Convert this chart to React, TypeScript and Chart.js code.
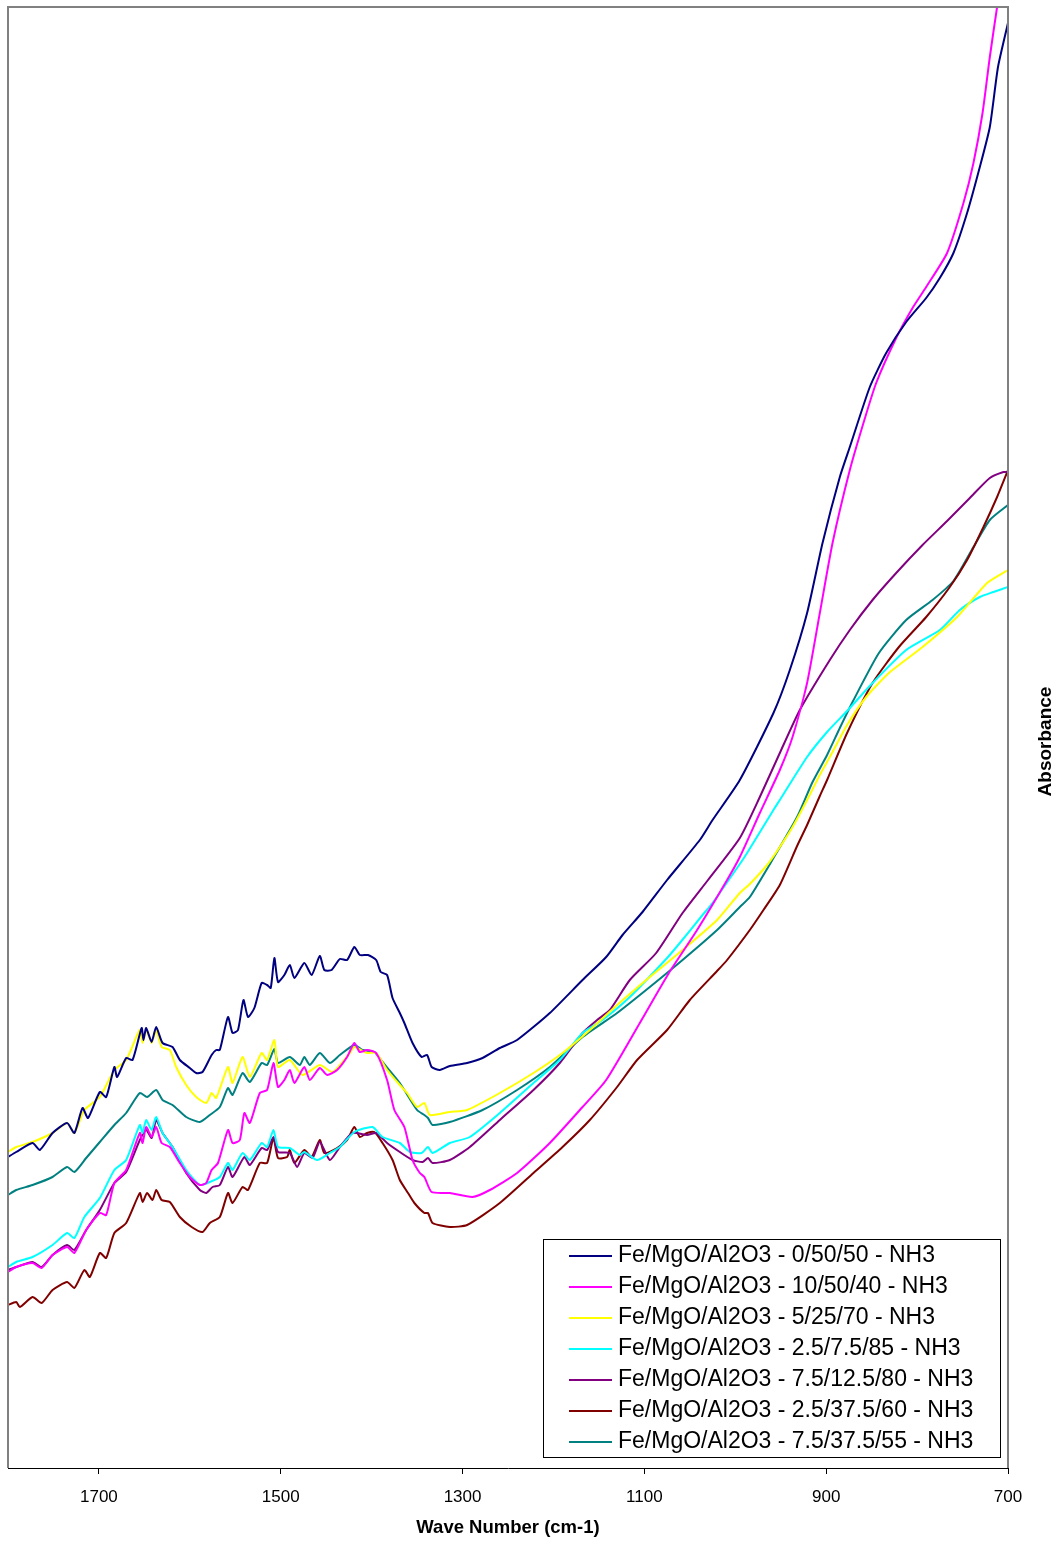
import { useEffect, useRef } from "react";
import { Chart, registerables } from "chart.js";

Chart.register(...registerables);

const FONT = 'Arial, "Liberation Sans", Helvetica, sans-serif';

// Wave-number axis (cm-1), drawn reversed: 1800 on the left, 700 on the right
const xMin = 700;
const xMax = 1800;
const xTicks = [700, 900, 1100, 1300, 1500, 1700];
const yMin = 0;
const yMax = 1.461;

const xTitle = "Wave Number (cm-1)";
const yTitle = "Absorbance";

const seriesLabels = [
  "Fe/MgO/Al2O3 - 0/50/50 - NH3",
  "Fe/MgO/Al2O3 - 10/50/40 - NH3",
  "Fe/MgO/Al2O3 - 5/25/70 - NH3",
  "Fe/MgO/Al2O3 - 2.5/7.5/85 - NH3",
  "Fe/MgO/Al2O3 - 7.5/12.5/80 - NH3",
  "Fe/MgO/Al2O3 - 2.5/37.5/60 - NH3",
  "Fe/MgO/Al2O3 - 7.5/37.5/55 - NH3",
];

const seriesColors = ["#000080", "#FF00FF", "#FFFF00", "#00FFFF", "#800080", "#800000", "#008080"];

// [wave number, absorbance] pairs for each sample
const s0_50_50: [number, number][] = [
  [1800, 0.311], [1791, 0.316], [1773, 0.325], [1765, 0.318], [1751, 0.335], [1735, 0.345], [1727, 0.335],
  [1718, 0.36], [1712, 0.35], [1699, 0.376], [1692, 0.371], [1683, 0.401], [1680, 0.391], [1670, 0.41],
  [1663, 0.408], [1653, 0.44], [1651, 0.428], [1648, 0.44], [1642, 0.426], [1637, 0.441], [1630, 0.425],
  [1619, 0.421], [1611, 0.408], [1600, 0.4], [1593, 0.395], [1586, 0.396], [1576, 0.413], [1571, 0.418],
  [1567, 0.418], [1558, 0.451], [1553, 0.435], [1547, 0.438], [1541, 0.468], [1536, 0.451], [1529, 0.46],
  [1521, 0.485], [1515, 0.483], [1511, 0.48], [1507, 0.51], [1503, 0.486], [1496, 0.493], [1490, 0.503],
  [1485, 0.49], [1474, 0.505], [1466, 0.493], [1457, 0.512], [1452, 0.498], [1444, 0.498], [1435, 0.509],
  [1427, 0.508], [1419, 0.521], [1413, 0.513], [1404, 0.513], [1395, 0.508], [1390, 0.496], [1383, 0.493],
  [1377, 0.47], [1369, 0.455], [1364, 0.445], [1355, 0.425], [1345, 0.411], [1339, 0.413], [1334, 0.401],
  [1325, 0.398], [1314, 0.402], [1295, 0.405], [1278, 0.41], [1259, 0.42], [1240, 0.428], [1204, 0.455],
  [1168, 0.488], [1142, 0.511], [1124, 0.533], [1102, 0.556], [1075, 0.588], [1039, 0.628], [1025, 0.648],
  [995, 0.688], [958, 0.755], [940, 0.798], [921, 0.855], [904, 0.925], [885, 0.991], [874, 1.021],
  [852, 1.081], [834, 1.115], [812, 1.146], [790, 1.17], [775, 1.19], [760, 1.215], [745, 1.255],
  [731, 1.301], [720, 1.341], [711, 1.401], [700, 1.445],
];

const s10_50_40: [number, number][] = [
  [1800, 0.196], [1791, 0.201], [1773, 0.205], [1763, 0.2], [1751, 0.213], [1735, 0.221], [1727, 0.215],
  [1714, 0.238], [1699, 0.255], [1692, 0.253], [1683, 0.285], [1670, 0.298], [1655, 0.335], [1652, 0.325],
  [1648, 0.341], [1642, 0.331], [1637, 0.341], [1631, 0.325], [1622, 0.321], [1611, 0.305], [1600, 0.291],
  [1589, 0.283], [1582, 0.285], [1576, 0.298], [1569, 0.305], [1558, 0.338], [1553, 0.325], [1545, 0.328],
  [1540, 0.355], [1534, 0.345], [1523, 0.375], [1515, 0.378], [1508, 0.405], [1503, 0.381], [1496, 0.388],
  [1490, 0.398], [1485, 0.385], [1474, 0.401], [1468, 0.388], [1457, 0.4], [1449, 0.393], [1438, 0.398],
  [1427, 0.411], [1419, 0.425], [1413, 0.416], [1405, 0.418], [1395, 0.415], [1383, 0.388], [1375, 0.358],
  [1364, 0.341], [1355, 0.308], [1347, 0.295], [1342, 0.291], [1334, 0.276], [1314, 0.275], [1289, 0.271],
  [1270, 0.278], [1240, 0.295], [1204, 0.325], [1168, 0.361], [1142, 0.388], [1105, 0.445], [1073, 0.495],
  [1042, 0.538], [1009, 0.588], [995, 0.611], [973, 0.655], [951, 0.698], [937, 0.731], [921, 0.785],
  [907, 0.855], [893, 0.925], [874, 0.998], [858, 1.048], [845, 1.085], [823, 1.13], [805, 1.16],
  [790, 1.181], [767, 1.215], [749, 1.265], [738, 1.305], [728, 1.355], [720, 1.411], [712, 1.461],
  [700, 1.53],
];

const s5_25_70: [number, number][] = [
  [1800, 0.316], [1791, 0.321], [1773, 0.326], [1751, 0.335], [1735, 0.345], [1727, 0.335], [1716, 0.358],
  [1699, 0.371], [1683, 0.398], [1670, 0.408], [1655, 0.438], [1652, 0.425], [1648, 0.438], [1642, 0.425],
  [1637, 0.438], [1631, 0.421], [1622, 0.418], [1615, 0.401], [1604, 0.383], [1593, 0.371], [1582, 0.365],
  [1576, 0.375], [1571, 0.37], [1558, 0.401], [1553, 0.385], [1542, 0.411], [1534, 0.391], [1521, 0.415],
  [1515, 0.408], [1507, 0.428], [1503, 0.401], [1490, 0.408], [1476, 0.393], [1457, 0.403], [1443, 0.396],
  [1424, 0.415], [1419, 0.421], [1405, 0.415], [1395, 0.415], [1383, 0.398], [1369, 0.383], [1361, 0.375],
  [1350, 0.361], [1342, 0.365], [1336, 0.353], [1314, 0.356], [1295, 0.358], [1259, 0.375], [1222, 0.395],
  [1190, 0.415], [1160, 0.438], [1130, 0.463], [1094, 0.491], [1058, 0.518], [1020, 0.548], [995, 0.575],
  [984, 0.584], [965, 0.603], [951, 0.621], [937, 0.641], [921, 0.668], [907, 0.693], [893, 0.716],
  [877, 0.743], [856, 0.771], [831, 0.795], [794, 0.821], [756, 0.851], [723, 0.885], [700, 0.898],
];

const s2_5_7_5_85: [number, number][] = [
  [1800, 0.201], [1791, 0.206], [1773, 0.211], [1751, 0.223], [1735, 0.235], [1727, 0.23], [1716, 0.251],
  [1699, 0.27], [1683, 0.298], [1670, 0.308], [1655, 0.343], [1652, 0.335], [1648, 0.348], [1642, 0.338],
  [1637, 0.351], [1630, 0.335], [1619, 0.321], [1604, 0.298], [1589, 0.283], [1578, 0.286], [1567, 0.291],
  [1558, 0.305], [1553, 0.298], [1542, 0.315], [1534, 0.308], [1521, 0.325], [1515, 0.321], [1508, 0.338],
  [1503, 0.321], [1490, 0.32], [1479, 0.313], [1474, 0.316], [1460, 0.308], [1446, 0.315], [1435, 0.321],
  [1419, 0.336], [1399, 0.341], [1388, 0.331], [1369, 0.325], [1358, 0.316], [1345, 0.315], [1338, 0.321],
  [1333, 0.315], [1314, 0.325], [1292, 0.331], [1259, 0.355], [1222, 0.385], [1193, 0.408], [1168, 0.435],
  [1146, 0.448], [1116, 0.471], [1075, 0.51], [1061, 0.525], [1036, 0.553], [1025, 0.565], [995, 0.604],
  [987, 0.615], [958, 0.658], [951, 0.668], [921, 0.711], [899, 0.736], [877, 0.757], [849, 0.785],
  [812, 0.818], [775, 0.838], [753, 0.858], [731, 0.871], [716, 0.876], [700, 0.881],
];

const s7_5_12_5_80: [number, number][] = [
  [1800, 0.198], [1791, 0.201], [1773, 0.206], [1763, 0.201], [1751, 0.213], [1735, 0.223], [1727, 0.218],
  [1714, 0.238], [1699, 0.258], [1683, 0.285], [1670, 0.296], [1655, 0.328], [1648, 0.338], [1642, 0.33],
  [1637, 0.348], [1630, 0.335], [1619, 0.321], [1604, 0.295], [1589, 0.278], [1582, 0.275], [1575, 0.281],
  [1567, 0.283], [1558, 0.301], [1553, 0.291], [1540, 0.311], [1534, 0.303], [1521, 0.32], [1515, 0.318],
  [1508, 0.331], [1503, 0.316], [1490, 0.315], [1482, 0.301], [1474, 0.315], [1465, 0.31], [1457, 0.326],
  [1446, 0.308], [1435, 0.321], [1421, 0.335], [1405, 0.333], [1395, 0.335], [1383, 0.325], [1369, 0.316],
  [1355, 0.308], [1344, 0.306], [1338, 0.31], [1333, 0.305], [1314, 0.308], [1292, 0.321], [1259, 0.348],
  [1222, 0.378], [1193, 0.405], [1168, 0.435], [1152, 0.448], [1138, 0.458], [1116, 0.488], [1087, 0.515],
  [1058, 0.555], [1030, 0.588], [995, 0.63], [973, 0.671], [951, 0.715], [929, 0.758], [896, 0.808],
  [874, 0.838], [849, 0.868], [823, 0.895], [794, 0.923], [767, 0.947], [742, 0.97], [720, 0.99],
  [705, 0.996], [700, 0.996],
];

const s2_5_37_5_60: [number, number][] = [
  [1800, 0.163], [1791, 0.166], [1787, 0.161], [1773, 0.171], [1763, 0.165], [1751, 0.178], [1735, 0.186],
  [1727, 0.18], [1716, 0.198], [1710, 0.191], [1699, 0.215], [1692, 0.21], [1683, 0.235], [1670, 0.245],
  [1655, 0.275], [1652, 0.266], [1647, 0.275], [1641, 0.268], [1637, 0.278], [1631, 0.268], [1622, 0.266],
  [1611, 0.251], [1598, 0.241], [1586, 0.236], [1578, 0.245], [1567, 0.251], [1558, 0.275], [1553, 0.265],
  [1542, 0.281], [1536, 0.278], [1523, 0.305], [1515, 0.305], [1508, 0.33], [1503, 0.31], [1493, 0.311],
  [1490, 0.318], [1485, 0.305], [1474, 0.318], [1466, 0.311], [1457, 0.328], [1452, 0.315], [1438, 0.32],
  [1427, 0.328], [1419, 0.341], [1413, 0.331], [1405, 0.335], [1397, 0.336], [1388, 0.325], [1377, 0.308],
  [1369, 0.288], [1360, 0.275], [1353, 0.265], [1342, 0.255], [1338, 0.255], [1333, 0.245], [1314, 0.241],
  [1295, 0.243], [1259, 0.265], [1222, 0.295], [1190, 0.321], [1160, 0.348], [1130, 0.381], [1108, 0.408],
  [1075, 0.438], [1050, 0.468], [1020, 0.497], [1009, 0.508], [984, 0.538], [969, 0.558], [951, 0.583],
  [932, 0.622], [921, 0.643], [907, 0.672], [899, 0.688], [877, 0.735], [849, 0.785], [820, 0.821],
  [790, 0.851], [764, 0.881], [745, 0.908], [727, 0.941], [712, 0.971], [700, 0.998],
];

const s7_5_37_5_55: [number, number][] = [
  [1800, 0.273], [1791, 0.278], [1773, 0.283], [1751, 0.291], [1735, 0.301], [1727, 0.296], [1714, 0.31],
  [1699, 0.326], [1683, 0.343], [1670, 0.355], [1655, 0.375], [1647, 0.371], [1637, 0.378], [1630, 0.368],
  [1619, 0.363], [1604, 0.351], [1589, 0.346], [1578, 0.353], [1567, 0.361], [1558, 0.38], [1553, 0.373],
  [1542, 0.395], [1534, 0.386], [1521, 0.405], [1515, 0.403], [1507, 0.419], [1503, 0.405], [1490, 0.411],
  [1479, 0.403], [1474, 0.411], [1468, 0.403], [1457, 0.415], [1446, 0.405], [1435, 0.413], [1419, 0.423],
  [1410, 0.418], [1397, 0.416], [1388, 0.406], [1369, 0.385], [1350, 0.358], [1342, 0.353], [1338, 0.35],
  [1333, 0.343], [1314, 0.346], [1278, 0.358], [1240, 0.378], [1204, 0.401], [1168, 0.431], [1130, 0.455],
  [1094, 0.481], [1058, 0.508], [1020, 0.538], [995, 0.561], [984, 0.571], [958, 0.61], [932, 0.651],
  [915, 0.686], [899, 0.713], [885, 0.74], [871, 0.766], [842, 0.815], [812, 0.848], [783, 0.868],
  [760, 0.887], [738, 0.921], [720, 0.948], [700, 0.963],
];

const seriesData = [s0_50_50, s10_50_40, s5_25_70, s2_5_7_5_85, s7_5_12_5_80, s2_5_37_5_60, s7_5_37_5_55];

// Gray plot-area frame on the left, top and right sides
const framePlugin = {
  id: "plotFrame",
  afterDatasetsDraw(chart: any) {
    const { ctx, chartArea } = chart;
    const { left, top, right, bottom } = chartArea;
    ctx.save();
    ctx.strokeStyle = "#808080";
    ctx.lineWidth = 2;
    ctx.beginPath();
    ctx.moveTo(left, bottom);
    ctx.lineTo(left, top);
    ctx.lineTo(right, top);
    ctx.lineTo(right, bottom);
    ctx.stroke();
    ctx.restore();
  },
};

// Boxed legend in the lower right of the plot
const boxLegendPlugin = {
  id: "boxLegend",
  afterDraw(chart: any) {
    const { ctx, chartArea } = chart;
    const boxRight = chartArea.right - 8;
    const boxLeft = boxRight - 457;
    const boxBottom = chartArea.bottom - 11;
    const rowH = 31;
    const rows = chart.data.datasets.length;
    const boxTop = boxBottom - rows * rowH - 1;
    ctx.save();
    ctx.fillStyle = "#ffffff";
    ctx.fillRect(boxLeft, boxTop, boxRight - boxLeft, boxBottom - boxTop);
    ctx.strokeStyle = "#000000";
    ctx.lineWidth = 1;
    ctx.strokeRect(Math.round(boxLeft) + 0.5, Math.round(boxTop) + 0.5, Math.round(boxRight - boxLeft), Math.round(boxBottom - boxTop));
    ctx.font = `23px ${FONT}`;
    ctx.textBaseline = "middle";
    ctx.textAlign = "left";
    chart.data.datasets.forEach((ds: any, i: number) => {
      const y = boxTop + 17 + i * rowH;
      ctx.strokeStyle = ds.borderColor;
      ctx.lineWidth = 2;
      ctx.beginPath();
      ctx.moveTo(boxLeft + 26, y);
      ctx.lineTo(boxLeft + 69, y);
      ctx.stroke();
      ctx.fillStyle = "#000000";
      ctx.fillText(ds.label, boxLeft + 75, y);
    });
    ctx.restore();
  },
};

// Vertical axis title, set to the right of the plot
const yTitlePlugin = {
  id: "yTitle",
  afterDraw(chart: any) {
    const { ctx, chartArea } = chart;
    ctx.save();
    ctx.translate(chartArea.right + 38, (chartArea.top + chartArea.bottom) / 2 + 4);
    ctx.rotate(-Math.PI / 2);
    ctx.font = `bold 19px ${FONT}`;
    ctx.fillStyle = "#000000";
    ctx.textAlign = "center";
    ctx.textBaseline = "middle";
    ctx.fillText(yTitle, 0, 0);
    ctx.restore();
  },
};

export default function App() {
  const canvasRef = useRef<HTMLCanvasElement | null>(null);

  useEffect(() => {
    const canvas = canvasRef.current;
    if (!canvas) return;
    const chart = new Chart(canvas, {
      type: "line",
      data: {
        datasets: seriesData.map((pts, i) => ({
          label: seriesLabels[i],
          data: pts.map(([x, y]) => ({ x, y })),
          borderColor: seriesColors[i],
          backgroundColor: seriesColors[i],
          borderWidth: 2,
          pointRadius: 0,
          pointHoverRadius: 0,
          fill: false,
          tension: 0.2,
        })),
      },
      options: {
        responsive: false,
        animation: false,
        events: [],
        layout: { padding: { left: 8, top: 7, right: 54, bottom: 0 } },
        scales: {
          x: {
            type: "linear",
            position: "bottom",
            reverse: true,
            min: xMin,
            max: xMax,
            afterBuildTicks: (scale: any) => {
              scale.ticks = xTicks.map((value) => ({ value }));
            },
            afterFit: (scale: any) => {
              scale.height = 73;
            },
            ticks: {
              autoSkip: false,
              maxRotation: 0,
              padding: 13,
              color: "#000000",
              font: { family: FONT, size: 17 },
              callback: (v: any) => String(v),
            },
            grid: {
              display: true,
              drawOnChartArea: false,
              drawTicks: true,
              tickLength: 6,
              color: "#000000",
              lineWidth: 1,
            },
            border: { display: true, color: "#000000", width: 1 },
            title: {
              display: true,
              text: xTitle,
              color: "#000000",
              font: { family: FONT, size: 18.5, weight: "bold" },
              padding: { top: 0, bottom: 2 },
            },
          },
          y: {
            type: "linear",
            display: false,
            min: yMin,
            max: yMax,
          },
        },
        plugins: {
          legend: { display: false },
          tooltip: { enabled: false },
        },
      },
      plugins: [framePlugin, boxLegendPlugin, yTitlePlugin],
    });
    return () => chart.destroy();
  }, []);

  return (
    <div style={{ position: "absolute", left: 0, top: 0, width: 1062, height: 1541, background: "#ffffff" }}>
      <canvas ref={canvasRef} width={1062} height={1541} style={{ display: "block" }} />
    </div>
  );
}
